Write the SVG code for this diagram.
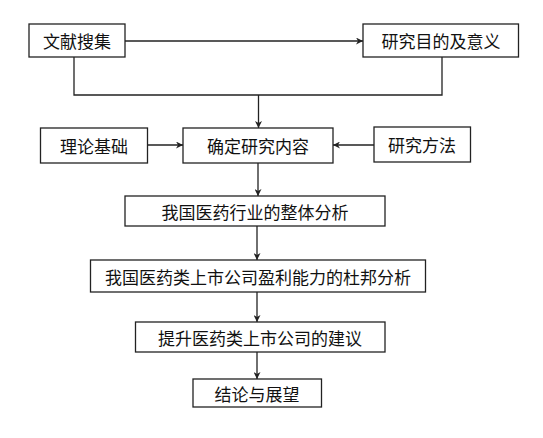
<svg xmlns="http://www.w3.org/2000/svg" width="543" height="438" viewBox="0 0 543 438">
<defs>
<marker id="ah" viewBox="0 0 10 10" refX="10" refY="5" markerWidth="7" markerHeight="7" markerUnits="userSpaceOnUse" orient="auto">
<path d="M0,0 L10,5 L0,10 L3,5 Z" fill="#222"/>
</marker>
<style>
.box{fill:#fff;stroke:#222;stroke-width:1.3}
.t{font-family:"Noto Sans CJK SC","Noto Sans",sans-serif;font-size:17px;fill:#111;text-anchor:middle;dominant-baseline:central}
.c{fill:none;stroke:#222;stroke-width:1.3}
</style>
</defs>
<rect width="543" height="438" fill="#fff"/>
<g id="connectors">
<line class="c" x1="125" y1="41" x2="363" y2="41" marker-end="url(#ah)"/>
<polyline class="c" points="74,57 74,95 442,95 442,57"/>
<line class="c" x1="258.5" y1="95" x2="258.5" y2="128" marker-end="url(#ah)"/>
<line class="c" x1="148" y1="145" x2="183" y2="145" marker-end="url(#ah)"/>
<line class="c" x1="374" y1="145" x2="333" y2="145" marker-end="url(#ah)"/>
<line class="c" x1="258" y1="163" x2="258" y2="196" marker-end="url(#ah)"/>
<line class="c" x1="257" y1="226" x2="257" y2="260" marker-end="url(#ah)"/>
<line class="c" x1="257" y1="292" x2="257" y2="322" marker-end="url(#ah)"/>
<line class="c" x1="257" y1="352" x2="257" y2="379" marker-end="url(#ah)"/>
</g>
<g id="n1"><rect class="box" x="29" y="24" width="96" height="33"/><text class="t" x="77" y="40.5">文献搜集</text></g>
<g id="n2"><rect class="box" x="363" y="24" width="155.5" height="33"/><text class="t" x="441" y="40.5">研究目的及意义</text></g>
<g id="n3"><rect class="box" x="40.5" y="128" width="107" height="35"/><text class="t" x="94" y="145.5">理论基础</text></g>
<g id="n4"><rect class="box" x="183" y="128" width="150" height="35"/><text class="t" x="258" y="145.5">确定研究内容</text></g>
<g id="n5"><rect class="box" x="374" y="127" width="96.5" height="35"/><text class="t" x="422" y="144.5">研究方法</text></g>
<g id="n6"><rect class="box" x="125" y="196" width="260" height="30"/><text class="t" x="255" y="211">我国医药行业的整体分析</text></g>
<g id="n7"><rect class="box" x="90.5" y="260" width="335" height="32"/><text class="t" x="258" y="276">我国医药类上市公司盈利能力的杜邦分析</text></g>
<g id="n8"><rect class="box" x="135.5" y="322" width="249.5" height="30"/><text class="t" x="260" y="337">提升医药类上市公司的建议</text></g>
<g id="n9"><rect class="box" x="193" y="379" width="128.5" height="28"/><text class="t" x="257" y="393">结论与展望</text></g>
</svg>
